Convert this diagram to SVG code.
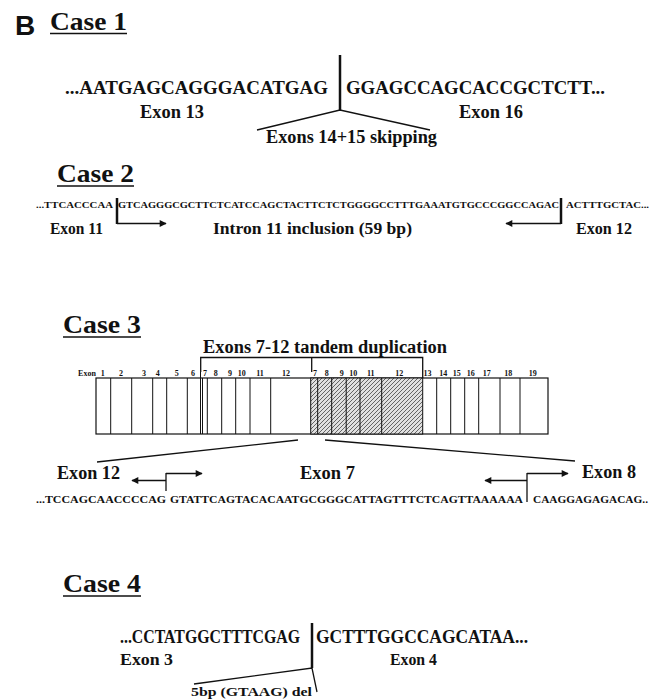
<svg xmlns="http://www.w3.org/2000/svg" width="659" height="699" viewBox="0 0 659 699">
<style>
text{font-family:"Liberation Serif","Times New Roman",serif;font-weight:bold;fill:#111}
.ttl{font-size:26px}
.ul{stroke:#111;stroke-width:1.6}
.ln{stroke:#111;stroke-width:1.3;fill:none}
.bar{stroke:#111;stroke-width:2.5}
.seq1{font-size:18px}
.lbl18{font-size:18px}
.lbl16{font-size:16px}
.seq2{font-size:9px}
.seq3{font-size:10px}
.num{font-size:8px;text-anchor:middle}
.box{fill:#fff;stroke:#111;stroke-width:1.2}
.div{stroke:#111;stroke-width:1}
</style>
<defs>
<marker id="ah" viewBox="0 0 10 10" refX="9" refY="5" markerWidth="8" markerHeight="7" markerUnits="userSpaceOnUse" orient="auto">
<path d="M0,0 L10,5 L0,10 z" fill="#111"/>
</marker>
<pattern id="hatch" patternUnits="userSpaceOnUse" width="4" height="4">
<rect width="4" height="4" fill="#e0e0e0"/>
<path d="M-1,1 L1,-1 M0,4 L4,0 M3,5 L5,3" stroke="#444" stroke-width="0.8"/>
</pattern>
</defs>

<text x="15" y="35" style="font-family:'Liberation Sans',Arial,sans-serif;font-size:28px">B</text>

<g id="case1">
<text class="ttl" x="50" y="30" textLength="77" lengthAdjust="spacingAndGlyphs">Case 1</text>
<line class="ul" x1="50" y1="33.5" x2="127" y2="33.5"/>
<text class="seq1" x="65" y="94" textLength="263" lengthAdjust="spacingAndGlyphs">...AATGAGCAGGGACATGAG</text>
<text class="seq1" x="346" y="94" textLength="259" lengthAdjust="spacingAndGlyphs">GGAGCCAGCACCGCTCTT...</text>
<text class="lbl18" x="140" y="118" textLength="64" lengthAdjust="spacingAndGlyphs">Exon 13</text>
<text class="lbl18" x="459" y="118" textLength="64" lengthAdjust="spacingAndGlyphs">Exon 16</text>
<text class="lbl18" x="266" y="143" textLength="171" lengthAdjust="spacingAndGlyphs">Exons 14+15 skipping</text>
</g>

<g id="case2">
<text class="ttl" x="57" y="182" textLength="77" lengthAdjust="spacingAndGlyphs">Case 2</text>
<line class="ul" x1="57" y1="186" x2="134" y2="186"/>
<text class="seq2" x="36" y="208" textLength="77" lengthAdjust="spacingAndGlyphs">...TTCACCCAA</text>
<text class="seq2" x="118" y="208" textLength="441" lengthAdjust="spacingAndGlyphs">GTCAGGGCGCTTCTCATCCAGCTACTTCTCTGGGGCCTTTGAAATGTGCCCGGCCAGAC</text>
<text class="seq2" x="566" y="208" textLength="83" lengthAdjust="spacingAndGlyphs">ACTTTGCTAC...</text>
<text class="lbl16" x="50" y="234" textLength="53" lengthAdjust="spacingAndGlyphs">Exon 11</text>
<text class="lbl16" x="213" y="234" textLength="199" lengthAdjust="spacingAndGlyphs">Intron 11 inclusion (59 bp)</text>
<text class="lbl16" x="576" y="234" textLength="56" lengthAdjust="spacingAndGlyphs">Exon 12</text>
</g>

<g id="case3">
<text class="ttl" x="63" y="333" textLength="78" lengthAdjust="spacingAndGlyphs">Case 3</text>
<line class="ul" x1="63" y1="337" x2="141" y2="337"/>
<text class="lbl18" x="203" y="353" textLength="244" lengthAdjust="spacingAndGlyphs">Exons 7-12 tandem duplication</text>
</g>

<g id="exon-map">
<rect class="box" x="96" y="378" width="452" height="56"/>
<rect x="310.7" y="378" width="112" height="56" fill="url(#hatch)" stroke="#111" stroke-width="1"/>
<g class="div">
<line x1="110.7" y1="378" x2="110.7" y2="434"/>
<line x1="131.7" y1="378" x2="131.7" y2="434"/>
<line x1="152.7" y1="378" x2="152.7" y2="434"/>
<line x1="166.7" y1="378" x2="166.7" y2="434"/>
<line x1="187.3" y1="378" x2="187.3" y2="434"/>
<line x1="200.5" y1="372" x2="200.5" y2="434"/>
<line x1="202.5" y1="378" x2="202.5" y2="434"/>
<line x1="207.3" y1="378" x2="207.3" y2="434"/>
<line x1="221.7" y1="378" x2="221.7" y2="434"/>
<line x1="235.7" y1="378" x2="235.7" y2="434"/>
<line x1="250" y1="378" x2="250" y2="434"/>
<line x1="270.7" y1="378" x2="270.7" y2="434"/>
<line x1="317.7" y1="378" x2="317.7" y2="434"/>
<line x1="331.7" y1="378" x2="331.7" y2="434"/>
<line x1="346.2" y1="378" x2="346.2" y2="434"/>
<line x1="360" y1="378" x2="360" y2="434"/>
<line x1="381.7" y1="378" x2="381.7" y2="434"/>
<line x1="436.7" y1="378" x2="436.7" y2="434"/>
<line x1="450.7" y1="378" x2="450.7" y2="434"/>
<line x1="464.7" y1="378" x2="464.7" y2="434"/>
<line x1="478.7" y1="378" x2="478.7" y2="434"/>
<line x1="500" y1="378" x2="500" y2="434"/>
<line x1="520" y1="378" x2="520" y2="434"/>
</g>
<text class="num" x="87" y="376">Exon</text>
<text class="num" x="102.7" y="376">1</text>
<text class="num" x="121" y="376">2</text>
<text class="num" x="144" y="376">3</text>
<text class="num" x="157.7" y="376">4</text>
<text class="num" x="176.7" y="376">5</text>
<text class="num" x="193" y="376">6</text>
<text class="num" x="205" y="376">7</text>
<text class="num" x="215.7" y="376">8</text>
<text class="num" x="230" y="376">9</text>
<text class="num" x="241.7" y="376">10</text>
<text class="num" x="260" y="376">11</text>
<text class="num" x="286" y="376">12</text>
<text class="num" x="315" y="376">7</text>
<text class="num" x="326.7" y="376">8</text>
<text class="num" x="341.7" y="376">9</text>
<text class="num" x="353.3" y="376">10</text>
<text class="num" x="370.7" y="376">11</text>
<text class="num" x="399.3" y="376">12</text>
<text class="num" x="427.5" y="376">13</text>
<text class="num" x="443.3" y="376">14</text>
<text class="num" x="456.7" y="376">15</text>
<text class="num" x="470.7" y="376">16</text>
<text class="num" x="486.7" y="376">17</text>
<text class="num" x="508.3" y="376">18</text>
<text class="num" x="532.7" y="376">19</text>
</g>

<g id="case3-seq">
<text class="lbl18" x="57" y="479" textLength="63" lengthAdjust="spacingAndGlyphs">Exon 12</text>
<text class="lbl18" x="300" y="479" textLength="55" lengthAdjust="spacingAndGlyphs">Exon 7</text>
<text class="lbl18" x="582" y="478" textLength="54" lengthAdjust="spacingAndGlyphs">Exon 8</text>
<text class="seq3" x="36" y="503" textLength="130" lengthAdjust="spacingAndGlyphs">...TCCAGCAACCCCAG</text>
<text class="seq3" x="170" y="503" textLength="353" lengthAdjust="spacingAndGlyphs">GTATTCAGTACACAATGCGGGCATTAGTTTCTCAGTTAAAAAA</text>
<text class="seq3" x="533" y="503" textLength="115" lengthAdjust="spacingAndGlyphs">CAAGGAGAGACAG..</text>
</g>

<g id="case4">
<text class="ttl" x="63" y="592" textLength="78" lengthAdjust="spacingAndGlyphs">Case 4</text>
<line class="ul" x1="63" y1="596" x2="141" y2="596"/>
<text class="lbl18" x="120" y="643" textLength="180" lengthAdjust="spacingAndGlyphs">...CCTATGGCTTTCGAG</text>
<text class="lbl18" x="316" y="643" textLength="212" lengthAdjust="spacingAndGlyphs">GCTTTGGCCAGCATAA...</text>
<text class="lbl16" x="120" y="665" textLength="53" lengthAdjust="spacingAndGlyphs">Exon 3</text>
<text class="lbl16" x="390" y="665" textLength="47" lengthAdjust="spacingAndGlyphs">Exon 4</text>
<text x="191" y="696" style="font-size:13px" textLength="121" lengthAdjust="spacingAndGlyphs">5bp (GTAAG) del</text>
</g>

<g id="connectors">
<line class="bar" x1="340" y1="55" x2="340" y2="110"/>
<polyline class="ln" points="257,130 340,110 430,130"/>
<line class="bar" x1="117" y1="198" x2="117" y2="224" stroke-width="2"/>
<line class="ln" x1="117" y1="223.5" x2="166" y2="223.5" marker-end="url(#ah)"/>
<line class="bar" x1="561" y1="198" x2="561" y2="224" stroke-width="2"/>
<line class="ln" x1="561" y1="223.5" x2="506" y2="223.5" marker-end="url(#ah)"/>
<polyline class="ln" points="200.7,372 200.7,357.5 422.7,357.5 422.7,378" stroke-width="1.5"/>
<line class="ln" x1="311.7" y1="357.5" x2="311.7" y2="372" stroke-width="1.5"/>
<line class="ln" x1="298" y1="440" x2="97" y2="462"/>
<line class="ln" x1="325" y1="440" x2="575" y2="461"/>
<line class="ln" x1="166" y1="473" x2="166" y2="491"/>
<line class="ln" x1="166" y1="480.5" x2="132" y2="480.5" marker-end="url(#ah)"/>
<line class="ln" x1="166" y1="473.5" x2="202" y2="473.5" marker-end="url(#ah)"/>
<line class="ln" x1="527" y1="473" x2="527" y2="502"/>
<line class="ln" x1="527" y1="480.5" x2="485" y2="480.5" marker-end="url(#ah)"/>
<line class="ln" x1="527" y1="473.5" x2="568" y2="473.5" marker-end="url(#ah)"/>
<line class="bar" x1="312" y1="623" x2="312" y2="668" stroke-width="2"/>
<polyline class="ln" points="194,684 312,668 317,692"/>
</g>
</svg>
